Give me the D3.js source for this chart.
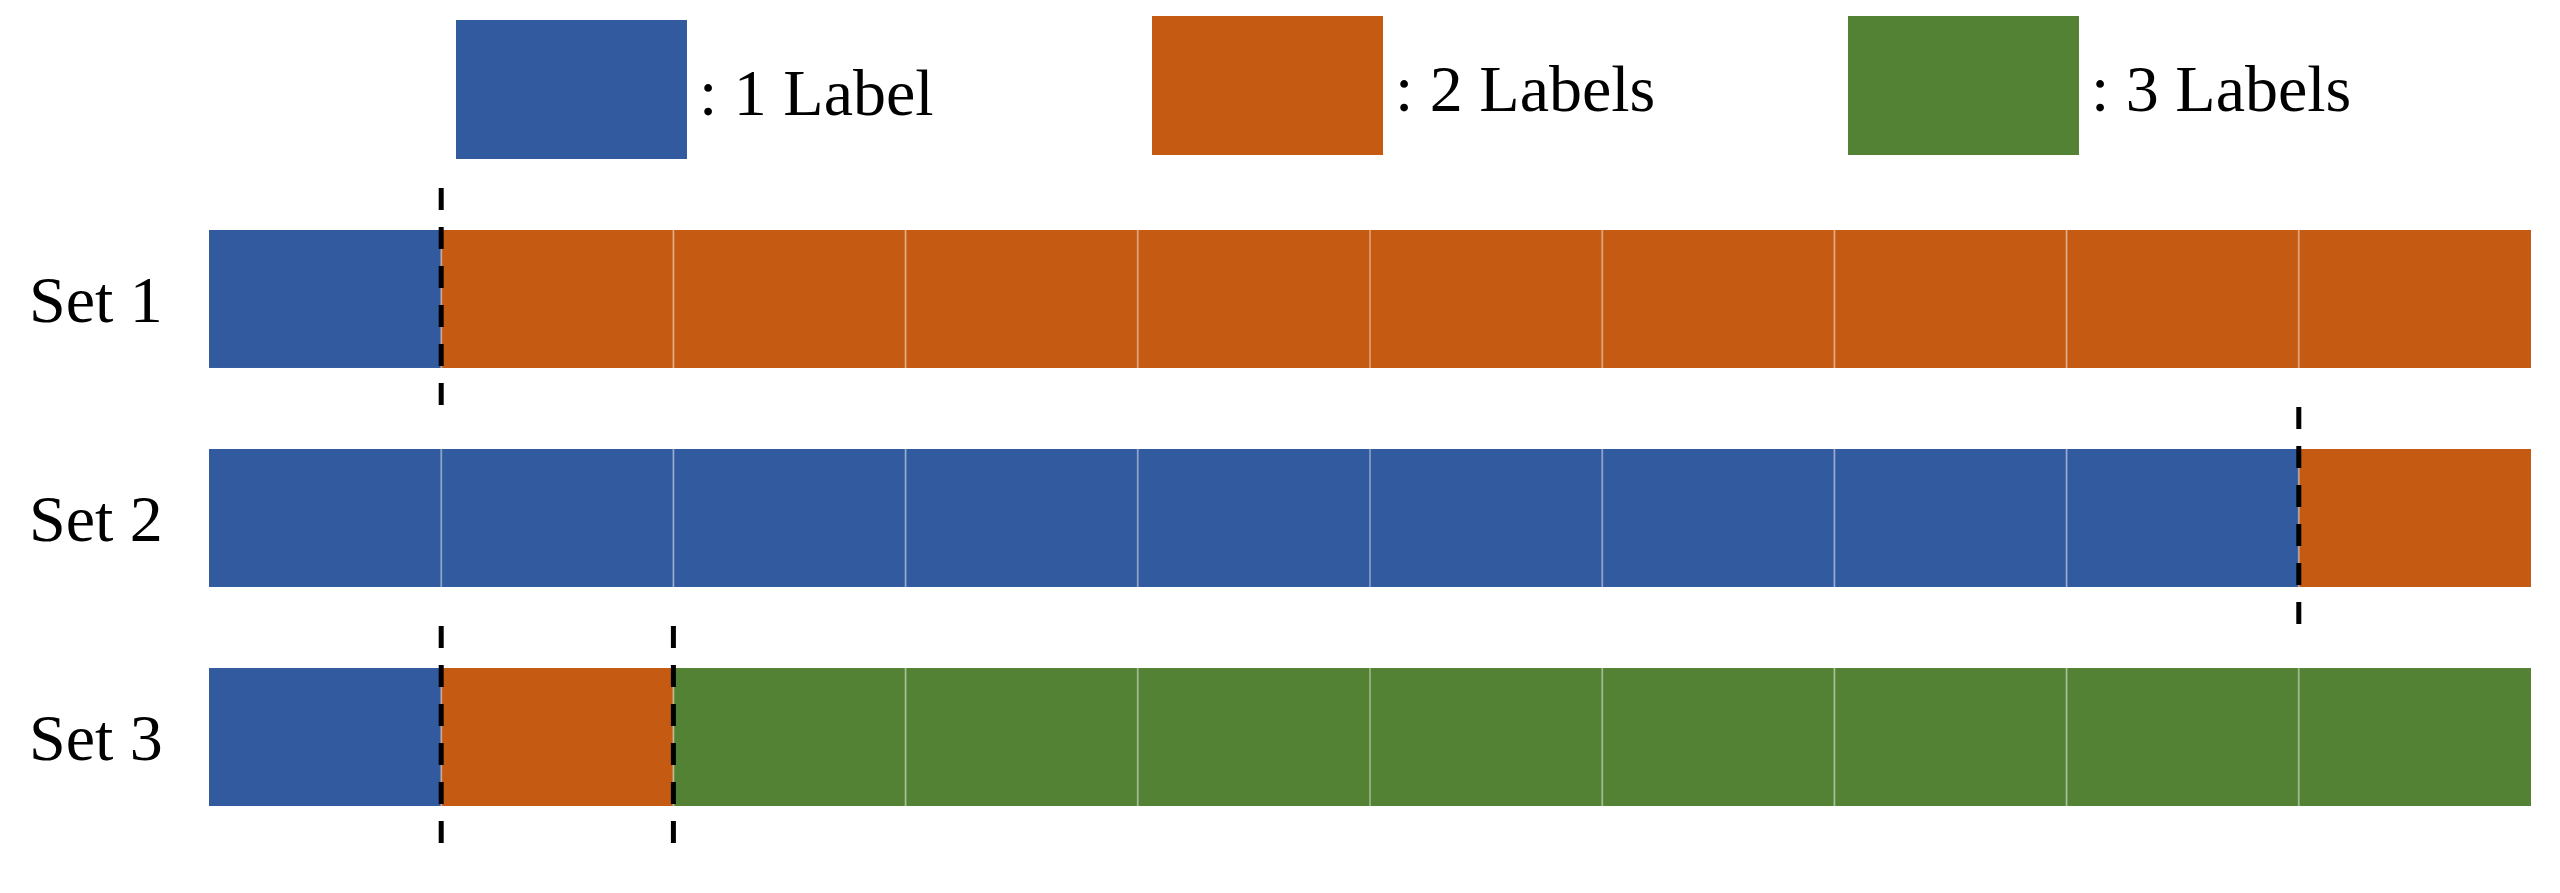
<!DOCTYPE html>
<html><head><meta charset="utf-8">
<script src="https://cdn.jsdelivr.net/npm/d3@7"></script>
<style>body{margin:0;background:#fff}</style>
</head><body>
<script>
const WIDTH = 2560, HEIGHT = 893

const SETS = ["Set 1", "Set 2", "Set 3"]
// label count of each of the 10 cells per set
const SET1 = [1, 2, 2, 2, 2, 2, 2, 2, 2, 2]
const SET2 = [1, 1, 1, 1, 1, 1, 1, 1, 1, 2]
const SET3 = [1, 2, 3, 3, 3, 3, 3, 3, 3, 3]
const LEGEND = [": 1 Label", ": 2 Labels", ": 3 Labels"]
const COLORS = ["#325a9f", "#c55a13", "#548235"]

const ROWS = [SET1, SET2, SET3]

const svg = d3.select("body").append("svg").attr("width", WIDTH).attr("height", HEIGHT)

const x = d3.scaleLinear().domain([0, 10]).range([209, 2531])
const y = d3.scaleBand().domain(SETS).range([230, 806]).paddingInner(0.37)
const color = d3.scaleOrdinal().domain([1, 2, 3]).range(COLORS)

// legend
const legX = d3.scaleLinear().domain([0, 2]).range([456, 1848])
const leg = svg.selectAll("g.leg").data(LEGEND).enter().append("g")
  .attr("transform", (d, i) => `translate(${legX(i)},${i == 0 ? 20 : 16})`)
leg.append("rect").attr("width", 231).attr("height", 139)
  .attr("fill", (d, i) => COLORS[i])
leg.append("text").attr("x", 243).attr("y", 95).text(d => d)
  .attr("font-family", "Liberation Serif").attr("font-size", 66)

// rows
ROWS.forEach((row, r) => {
  const g = svg.append("g")
  g.selectAll("rect").data(row).enter().append("rect")
    .attr("x", (d, i) => x(i)).attr("width", x(1) - x(0))
    .attr("y", y(SETS[r])).attr("height", y.bandwidth())
    .attr("fill", d => color(d))
  // thin separators
  g.selectAll("line").data(d3.range(1, row.length)).enter().append("line")
    .attr("x1", d => x(d)).attr("x2", d => x(d))
    .attr("y1", y(SETS[r])).attr("y2", y(SETS[r]) + y.bandwidth())
    .attr("stroke", "#ffffff").attr("stroke-opacity", 0.35).attr("stroke-width", 2)
  svg.append("text").attr("x", 29).attr("y", y(SETS[r]) + y.bandwidth() / 2 + 23)
    .text(SETS[r]).attr("font-family", "Liberation Serif").attr("font-size", 66)
  // dashed lines where label count changes
  row.forEach((v, i) => {
    if (i > 0 && v !== row[i - 1]) {
      svg.append("line").attr("x1", x(i)).attr("x2", x(i))
        .attr("y1", y(SETS[r]) - 42).attr("y2", y(SETS[r]) + y.bandwidth() + 42)
        .attr("stroke", "#000").attr("stroke-width", 5).attr("stroke-dasharray", "22,17")
    }
  })
})
</script>
</body></html>
